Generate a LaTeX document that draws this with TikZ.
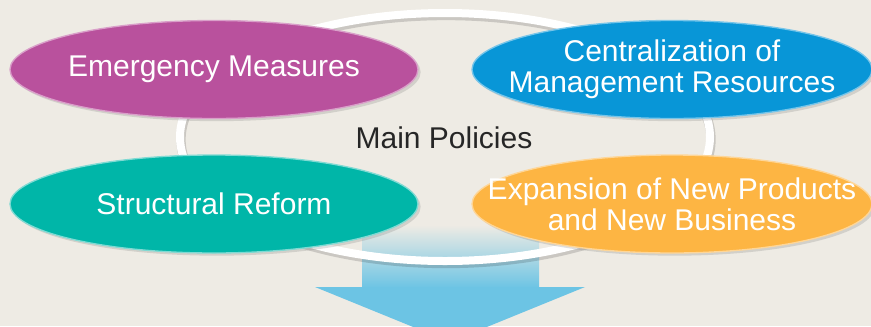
\documentclass[tikz,border=0pt]{standalone}
\usepackage{fontspec}
\setmainfont{Liberation Sans}
\usetikzlibrary{shapes.geometric,shadows}

\definecolor{paper}{RGB}{238,235,228}
\definecolor{plum}{RGB}{185,81,157}
\definecolor{skyblue}{RGB}{8,150,215}
\definecolor{teal}{RGB}{0,182,168}
\definecolor{amber}{RGB}{253,181,67}
\definecolor{arrowblue}{RGB}{108,196,228}

\tikzset{every picture/.style={line width=0.75pt}}
\tikzset{
  policy/.style={ellipse, minimum width=306pt, minimum height=73.5pt, inner sep=0pt,
    line width=1pt, drop shadow={shadow xshift=2pt, shadow yshift=-2pt, opacity=0.25},
    label={[align=center, text=white, font=\fontsize{22.5}{23.5}\selectfont]center:#1}},
  ring/.style={line width=6pt, draw=white},
}

\begin{document}
\begin{tikzpicture}[x=0.75pt,y=0.75pt,yscale=-1,xscale=1]
\useasboundingbox (0,0) rectangle (871,326);
\fill[paper] (0,0) rectangle (871,326);

%Arrow: shaft fades in from the top, head is solid
\shade[top color=paper, bottom color=arrowblue] (362,225) rectangle (539,288);
\fill[arrowblue] (315,287) -- (585,287) -- (450,342) -- cycle ;

%Shape: Ellipse ring behind the four policies
\draw[line width=7pt, black, opacity=0.15] (446,139.5) ellipse (265 and 124);
\draw[ring] (445,137) ellipse (265 and 124);

% Policy nodes
\node[policy={Emergency Measures}, fill=plum, draw=plum!55!white] (emergency) at (214,69.5) {};
\node[policy={Centralization of\\Management Resources}, fill=skyblue, draw=skyblue!55!white, minimum width=300pt] (central) at (672,69.5) {};
\node[policy={Structural Reform}, fill=teal, draw=teal!50!white] (structural) at (214,204) {};
\node[policy={Expansion of New Products\\and New Business}, fill=amber, draw=amber!55!white, minimum width=300pt] (expansion) at (672,204) {};

% Text Node
\node[font=\fontsize{22.5}{24}\selectfont, text=black!85] (main) at (444,138) {Main Policies};

\end{tikzpicture}
\end{document}
